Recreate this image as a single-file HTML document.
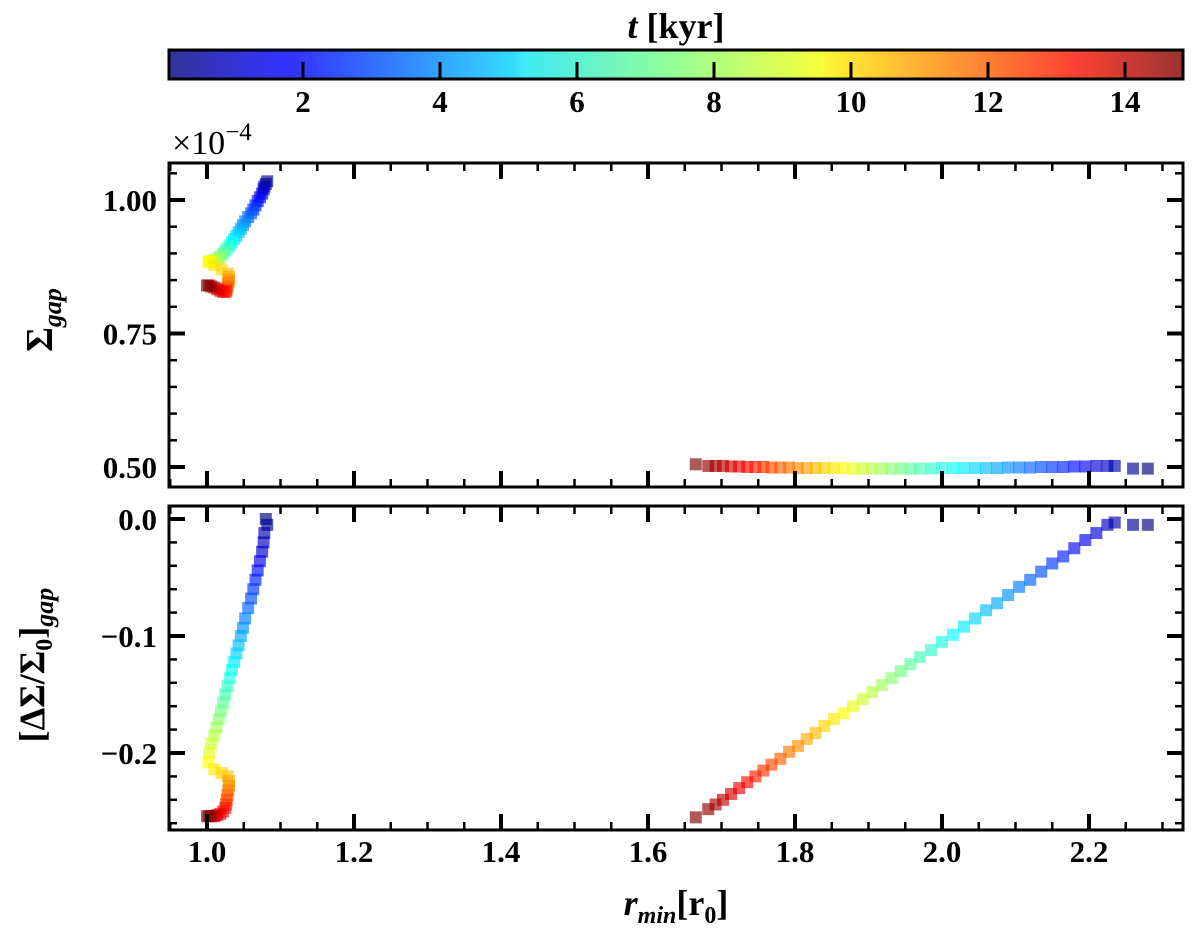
<!DOCTYPE html>
<html><head><meta charset="utf-8"><style>
body{margin:0;background:#fff}
svg{display:block}
text{font-family:"Liberation Serif",serif;font-weight:bold;fill:#000}
</style></head><body>
<svg id="chart" width="1200" height="942" xmlns="http://www.w3.org/2000/svg">
<defs>
<linearGradient id="jet" x1="0" x2="1" y1="0" y2="0">
<stop offset="0" stop-color="#00007f"/><stop offset="0.11" stop-color="#0000ff"/><stop offset="0.125" stop-color="#0000ff"/><stop offset="0.34" stop-color="#00d4ff"/><stop offset="0.35" stop-color="#0de5f2"/><stop offset="0.5" stop-color="#7dff7a"/><stop offset="0.64" stop-color="#f2ff0d"/><stop offset="0.66" stop-color="#ffe600"/><stop offset="0.89" stop-color="#ff1300"/><stop offset="1" stop-color="#800000"/>
</linearGradient>
</defs>
<g id="cbar"></g>
<g id="top"></g>
<g id="bot"></g>
</svg>
<script>
const tInner=[0,0.33,0.67,1,1.33,1.67,2,2.33,2.67,3,3.33,3.67,4,4.33,4.67,5,5.33,5.67,6,6.33,6.67,7,7.33,7.67,8,8.33,8.67,9,9.33,9.67,10,10.33,10.67,11,11.33,11.67,12,12.33,12.67,13,13.33,13.67,14,14.33,14.67,15];
const rInner=[1.080,1.082,1.078,1.077,1.075,1.072,1.069,1.066,1.063,1.060,1.056,1.052,1.049,1.046,1.043,1.040,1.037,1.034,1.031,1.028,1.025,1.022,1.019,1.016,1.013,1.010,1.006,1.003,1.002,1.010,1.020,1.028,1.030,1.030,1.029,1.028,1.027,1.026,1.025,1.022,1.018,1.014,1.010,1.006,1.003,1.000];
const sigInner=[1.03,1.035,1.025,1.02,1.012,1.005,0.998,0.99,0.982,0.975,0.968,0.96,0.953,0.946,0.94,0.933,0.927,0.921,0.915,0.91,0.905,0.90,0.896,0.892,0.889,0.887,0.886,0.885,0.884,0.878,0.870,0.862,0.856,0.850,0.845,0.838,0.833,0.830,0.828,0.828,0.830,0.833,0.836,0.838,0.840,0.840];
const dInner=[0.000,-0.005,-0.012,-0.020,-0.028,-0.036,-0.044,-0.052,-0.060,-0.068,-0.076,-0.085,-0.093,-0.100,-0.108,-0.115,-0.122,-0.129,-0.136,-0.143,-0.150,-0.157,-0.164,-0.171,-0.178,-0.185,-0.192,-0.200,-0.208,-0.214,-0.217,-0.220,-0.224,-0.228,-0.232,-0.236,-0.240,-0.244,-0.247,-0.250,-0.252,-0.253,-0.254,-0.254,-0.254,-0.254];
const tOuter=tInner;
const rOuter=[2.28,2.26,2.235,2.225,2.21,2.195,2.18,2.165,2.15,2.135,2.12,2.105,2.09,2.075,2.06,2.045,2.03,2.015,2.0,1.985,1.97,1.957,1.944,1.931,1.918,1.905,1.892,1.879,1.866,1.853,1.84,1.828,1.816,1.804,1.792,1.78,1.768,1.757,1.746,1.735,1.724,1.713,1.702,1.692,1.682,1.665];
const sigOuter=[0.497,0.497,0.502,0.502,0.502,0.501,0.501,0.500,0.500,0.500,0.499,0.499,0.499,0.498,0.498,0.498,0.498,0.498,0.498,0.497,0.497,0.497,0.497,0.497,0.497,0.497,0.497,0.497,0.498,0.498,0.498,0.498,0.498,0.498,0.499,0.499,0.499,0.500,0.500,0.500,0.501,0.501,0.502,0.502,0.502,0.505];
const dOuter=[-0.005,-0.005,-0.003,-0.005,-0.012,-0.018,-0.025,-0.032,-0.038,-0.045,-0.052,-0.058,-0.065,-0.072,-0.078,-0.085,-0.092,-0.099,-0.105,-0.112,-0.118,-0.124,-0.130,-0.136,-0.142,-0.148,-0.154,-0.160,-0.166,-0.171,-0.177,-0.183,-0.188,-0.194,-0.199,-0.205,-0.210,-0.215,-0.220,-0.225,-0.230,-0.235,-0.240,-0.244,-0.248,-0.255];
const xTicks=[1.0,1.2,1.4,1.6,1.8,2.0,2.2];
const sigTicks=[0.5,0.75,1.0];
const sigTickLabels=["0.50","0.75","1.00"];
const dTicks=[0,-0.1,-0.2];
const dTickLabels=["0.0","\u22120.1","\u22120.2"];
const cbTicks=[2,4,6,8,10,12,14];

const NS="http://www.w3.org/2000/svg";
function mk(parent,tag,attrs,txt){const e=document.createElementNS(NS,tag);for(const k in attrs)e.setAttribute(k,attrs[k]);if(txt!==undefined)e.textContent=txt;parent.appendChild(e);return e;}
function jet(v){v=Math.max(0,Math.min(1,v));const r=Math.max(0,Math.min(1,1.5-Math.abs(4*v-3)));const g=Math.max(0,Math.min(1,1.5-Math.abs(4*v-2)));const b=Math.max(0,Math.min(1,1.5-Math.abs(4*v-1)));return `rgb(${Math.round(r*255)},${Math.round(g*255)},${Math.round(b*255)})`;}

const L=169,R=1183;
const xs=v=>207+(v-1.0)*735;
const ysTop=v=>200+(1.0-v)*534;
const ysBot=v=>519-v*1170;
const cbx=v=>166+v*68.5;
const tMax=15;

const cb=document.getElementById('cbar');
const cbRect=mk(cb,'rect',{x:L,y:50,width:R-L,height:29,fill:'url(#jet)',stroke:'#000','stroke-width':3,'fill-opacity':0.8});

cbTicks.forEach(t=>{
  const l=mk(cb,'line',{x1:cbx(t),x2:cbx(t),y1:78,y2:62,stroke:'#000','stroke-width':3});
  
  const tx=mk(cb,'text',{x:cbx(t),y:112,'text-anchor':'middle','font-size':31},String(t));
  
});
const cbl=mk(cb,'text',{x:676,y:38,'text-anchor':'middle','font-size':36},'');

mk(cbl,'tspan',{'font-style':'italic'},'t');mk(cbl,'tspan',{},' [kyr]');

function panel(g,top,bot,ys,yMajor,yLabels,yMinorStart,yMinorEnd,yMinorStep,rs,vals,ts,name){
  
  for(let i=0;i<rs.length;i++){
    const s=mk(g,'rect',{x:xs(rs[i])-6,y:ys(vals[i])-6,width:12,height:12,fill:jet(ts[i]/tMax),opacity:0.65});
    
  }
  const f=mk(g,'rect',{x:L,y:top,width:R-L,height:bot-top,fill:'none',stroke:'#000','stroke-width':3});
  
  for(let v=0.95;v<=2.33;v+=0.05){
    const x=xs(v);if(x<L||x>R)continue;
    const maj=Math.abs(Math.round(v*5)-v*5)<1e-6;
    const len=maj?16:8;
    const a=mk(g,'line',{x1:x,x2:x,y1:bot,y2:bot-len,stroke:'#000','stroke-width':maj?4:2.5});
    
    const b=mk(g,'line',{x1:x,x2:x,y1:top,y2:top+len,stroke:'#000','stroke-width':maj?4:2.5});
    
  }
  for(let v=yMinorStart;v<=yMinorEnd+1e-9;v+=yMinorStep){
    const y=ys(v);if(y<top||y>bot)continue;
    const maj=yMajor.some(m=>Math.abs(m-v)<1e-6);
    const len=maj?16:8;
    const a=mk(g,'line',{x1:L,x2:L+len,y1:y,y2:y,stroke:'#000','stroke-width':maj?4:2.5});
    
    const b=mk(g,'line',{x1:R,x2:R-len,y1:y,y2:y,stroke:'#000','stroke-width':maj?4:2.5});
    
  }
  yMajor.forEach((m,i)=>{
    const t=mk(g,'text',{x:L-12,y:ys(m)+11,'text-anchor':'end','font-size':31},yLabels[i]);
    
  });
}
const gt=document.getElementById('top');
panel(gt,163,487,ysTop,sigTicks,sigTickLabels,0.45,1.05,0.05,rInner.concat(rOuter),sigInner.concat(sigOuter),tInner.concat(tOuter),'top-panel');
const gb=document.getElementById('bot');
panel(gb,506,830,ysBot,dTicks,dTickLabels,-0.26,0.02,0.02,rInner.concat(rOuter),dInner.concat(dOuter),tInner.concat(tOuter),'bottom-panel');

xTicks.forEach(v=>{
  const t=mk(gb,'text',{x:xs(v),y:862,'text-anchor':'middle','font-size':31},v.toFixed(1));
  
});
const off=mk(gt,'text',{x:172,y:154,'font-size':34},'×10');

off.style.fontWeight='normal';
mk(off,'tspan',{dy:-14,'font-size':25},'−4');
const xl=mk(gb,'text',{x:676,y:915,'text-anchor':'middle','font-size':36},'');

mk(xl,'tspan',{'font-style':'italic'},'r');mk(xl,'tspan',{dy:8,'font-size':24,'font-style':'italic'},'min');mk(xl,'tspan',{dy:-8},'[r');mk(xl,'tspan',{dy:8,'font-size':24},'0');mk(xl,'tspan',{dy:-8},']');
const yl1=mk(gt,'text',{x:0,y:0,'text-anchor':'middle','font-size':38,transform:'translate(52,320) rotate(-90)'},'');

mk(yl1,'tspan',{},'Σ');mk(yl1,'tspan',{dy:9,'font-size':26,'font-style':'italic'},'gap');
const yl2=mk(gb,'text',{x:0,y:0,'text-anchor':'middle','font-size':36,transform:'translate(44,665) rotate(-90)'},'');

mk(yl2,'tspan',{},'[ΔΣ/Σ');mk(yl2,'tspan',{dy:8,'font-size':24},'0');mk(yl2,'tspan',{dy:-8},']');mk(yl2,'tspan',{dy:9,'font-size':26,'font-style':'italic'},'gap');
</script>
</body></html>
